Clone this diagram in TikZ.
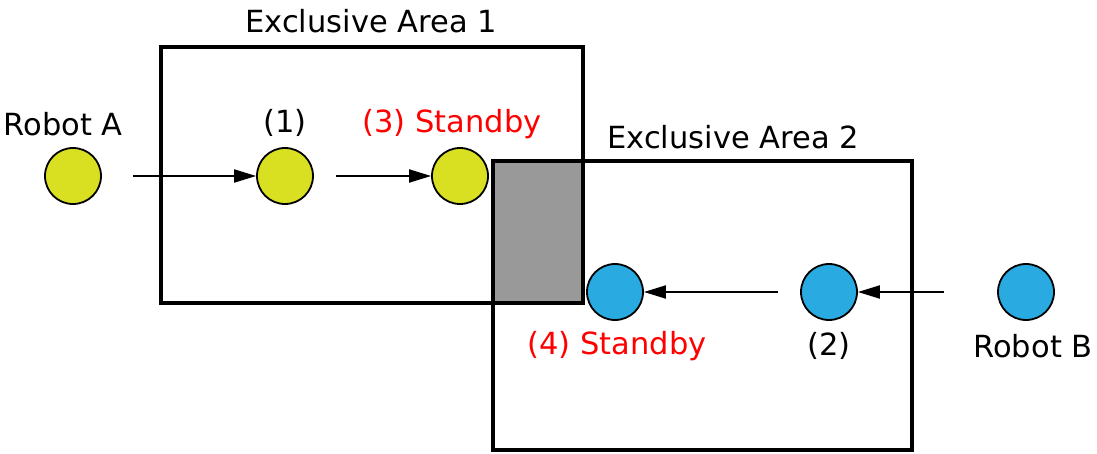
\documentclass[tikz,border=0pt]{standalone}
\usepackage{fontspec}
\setmainfont{DejaVu Sans}
\usetikzlibrary{arrows.meta}
\definecolor{ryellow}{HTML}{D9E021}
\definecolor{rblue}{HTML}{29ABE2}
\definecolor{rgray}{HTML}{999999}
\begin{document}
\begin{tikzpicture}[x=1pt,y=-1pt,
  robotA/.style={circle,draw=black,line width=1.8pt,fill=ryellow,minimum size=56pt,inner sep=0pt},
  robotB/.style={circle,draw=black,line width=1.8pt,fill=rblue,minimum size=56pt,inner sep=0pt},
  area/.style={draw=black,line width=3.6pt},
  lbl/.style={font=\fontsize{30.5}{34}\selectfont,inner sep=0pt},
  rlbl/.style={lbl,text=red},
  conn/.style={line width=2pt,-{Triangle[length=22pt,width=13pt]}}]
\useasboundingbox (0,0) rectangle (1097,454);
\fill[rgray] (493,161) rectangle (583,303);
\draw[area] (161,47) rectangle (583,303);
\draw[area] (493,161) rectangle (912,450);
\node[robotA] (ra) at (73,176) {};
\node[robotA] (p1) at (285,176) {};
\node[robotA] (p3) at (460,176) {};
\node[robotB] (p4) at (615,292) {};
\node[robotB] (p2) at (829,292) {};
\node[robotB] (rb) at (1026,292) {};
\draw[conn,shorten <=31pt] (ra) -- (p1);
\draw[conn,shorten <=22pt] (p1) -- (p3);
\draw[conn,shorten <=53pt] (rb) -- (p2);
\draw[conn,shorten <=22pt] (p2) -- (p4);
\node[lbl] (t1) at (371,21) {Exclusive Area 1};
\node[lbl] (t2) at (733,137) {Exclusive Area 2};
\node[lbl] (tra) at (63,124) {Robot A};
\node[lbl] (tp1) at (285,123) {(1)};
\node[rlbl] (tp3) at (452,124) {(3) Standby};
\node[rlbl] (tp4) at (617,346) {(4) Standby};
\node[lbl] (tp2) at (829,346) {(2)};
\node[lbl] (trb) at (1033,346) {Robot B};
\end{tikzpicture}
\end{document}
